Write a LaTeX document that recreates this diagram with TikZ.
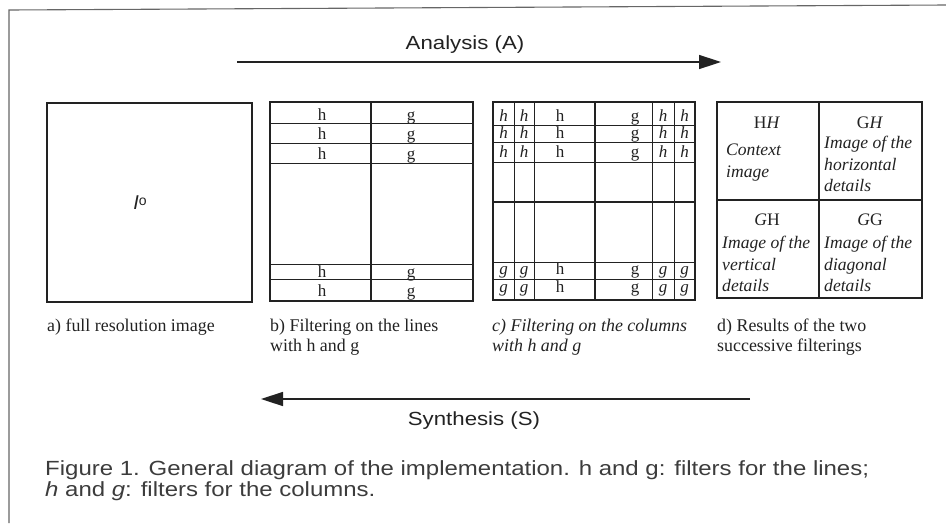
\documentclass[tikz,border=0pt]{standalone}
\usepackage{fontspec}
\setmainfont{Liberation Serif}
\newfontfamily\capfont[FakeStretch=1.17]{Liberation Sans}
\newfontfamily\iofont{Liberation Sans}
\usetikzlibrary{arrows.meta}
\definecolor{ink}{HTML}{222222}
\definecolor{capgray}{HTML}{3C3C3C}
\begin{document}
\begin{tikzpicture}[x=1pt,y=-1pt,
  box/.style={draw=ink,line width=1.8pt},
  thin/.style={draw=ink,line width=1pt},
  mid/.style={draw=ink,line width=1.6pt},
  cell/.style={anchor=base,inner sep=0pt,font=\fontsize{17}{17}\selectfont,text=ink},
  icell/.style={cell,font=\fontsize{17}{17}\selectfont\itshape},
  lab/.style={anchor=base west,inner sep=0pt,font=\fontsize{17.6}{17.6}\selectfont\itshape,text=ink},
  sub/.style={anchor=base west,inner sep=0pt,font=\fontsize{17.9}{20}\selectfont,text=ink,align=left},
  flow/.style={draw=ink,line width=1.5pt,-{Triangle[length=22pt,width=14pt]}},
  head/.style={inner sep=0pt,font=\capfont\fontsize{19}{19}\selectfont,text=ink}]
\useasboundingbox (0,0) rectangle (946,523);
% outer frame (open to right and bottom)
\draw[draw=gray!80!black,line width=1.1pt] (9,523) -- (9,10) -- (946,5);

% arrows
\coordinate (an1) at (237,62); \coordinate (an2) at (721,62);
\draw[flow] (an1) -- (an2);
\node[head] (analysis) at (465,45) {Analysis (A)};
\coordinate (sy1) at (750,399); \coordinate (sy2) at (261,399);
\draw[flow] (sy1) -- (sy2);
\node[head] (synthesis) at (474,421) {Synthesis (S)};

% a) full image
\draw[box] (47,103) rectangle (252,302);
\node[inner sep=0pt,font=\iofont\itshape\fontsize{20}{20}\selectfont,text=ink] (io) at (140,203) {I\raisebox{0.45ex}{\upshape\fontsize{14}{14}\selectfont o}};
\node[sub] (capa) at (47,331) {a) full resolution image};

% b) filtering on lines
\draw[box] (270,102) rectangle (473,301);
\draw[mid] (371,102) -- (371,301);
\foreach \yy in {123,143,163,264,279} \draw[thin] (270,\yy) -- (473,\yy);
\foreach \yy/\n in {120/1,139/2,159/3,277/4,296/5}{
  \node[cell] (bh\n) at (322,\yy) {h};
  \node[cell] (bg\n) at (411,\yy) {g};
}
\node[sub] (capb) at (270,351) {b) Filtering on the lines\\with h and g};

% c) filtering on columns
\draw[box] (493,102) rectangle (695,300);
\draw[mid] (595,102) -- (595,300);
\draw[mid] (493,202) -- (695,202);
\foreach \xx in {514,534,652,674} \draw[thin] (\xx,102) -- (\xx,300);
\foreach \yy in {125,142,162,262,279} \draw[thin] (493,\yy) -- (695,\yy);
\foreach \yy/\n in {121/1,138/2,157/3}{
  \node[icell] (ch1\n) at (503.5,\yy) {h};
  \node[icell] (ch2\n) at (524,\yy) {h};
  \node[cell] (ch3\n) at (560,\yy) {h};
  \node[cell] (cg3\n) at (635,\yy) {g};
  \node[icell] (ch4\n) at (663,\yy) {h};
  \node[icell] (ch5\n) at (684.5,\yy) {h};
}
\foreach \yy/\n in {274/4,292/5}{
  \node[icell] (cg1\n) at (503.5,\yy) {g};
  \node[icell] (cg2\n) at (524,\yy) {g};
  \node[cell] (ch3\n) at (560,\yy) {h};
  \node[cell] (cg3\n) at (635,\yy) {g};
  \node[icell] (cg4\n) at (663,\yy) {g};
  \node[icell] (cg5\n) at (684.5,\yy) {g};
}
\node[sub,font=\fontsize{17.9}{20}\selectfont\itshape] (capc) at (492,351) {c) Filtering on the columns\\with h and g};

% d) results
\draw[box] (717,102) rectangle (922,298);
\draw[mid] (819,102) -- (819,298);
\draw[mid] (717,200) -- (922,200);
\node[cell,font=\fontsize{17.6}{17.6}\selectfont] (hh) at (767,128) {H\textit{H}};
\node[lab] (d1a) at (726,155) {Context};
\node[lab] (d1b) at (726,177) {image};
\node[cell,font=\fontsize{17.6}{17.6}\selectfont] (gh1) at (870,128) {G\textit{H}};
\node[lab] (d2a) at (824,148) {Image of the};
\node[lab] (d2b) at (824,170) {horizontal};
\node[lab] (d2c) at (824,191) {details};
\node[cell,font=\fontsize{17.6}{17.6}\selectfont] (gh2) at (767,225) {\textit{G}H};
\node[lab] (d3a) at (722,248) {Image of the};
\node[lab] (d3b) at (722,270) {vertical};
\node[lab] (d3c) at (722,291) {details};
\node[cell,font=\fontsize{17.6}{17.6}\selectfont] (gg) at (870,225) {\textit{G}G};
\node[lab] (d4a) at (824,248) {Image of the};
\node[lab] (d4b) at (824,270) {diagonal};
\node[lab] (d4c) at (824,291) {details};
\node[sub] (capd) at (717,351) {d) Results of the two\\successive filterings};

% figure caption
\node[anchor=base west,inner sep=0pt,align=left,text=capgray,font=\capfont\fontsize{20.5}{21}\selectfont] (figcap) at (45,496)
  {Figure 1. General diagram of the implementation. h and g: filters for the lines;\\\textit{h} and \textit{g}: filters for the columns.};
\end{tikzpicture}
\end{document}
